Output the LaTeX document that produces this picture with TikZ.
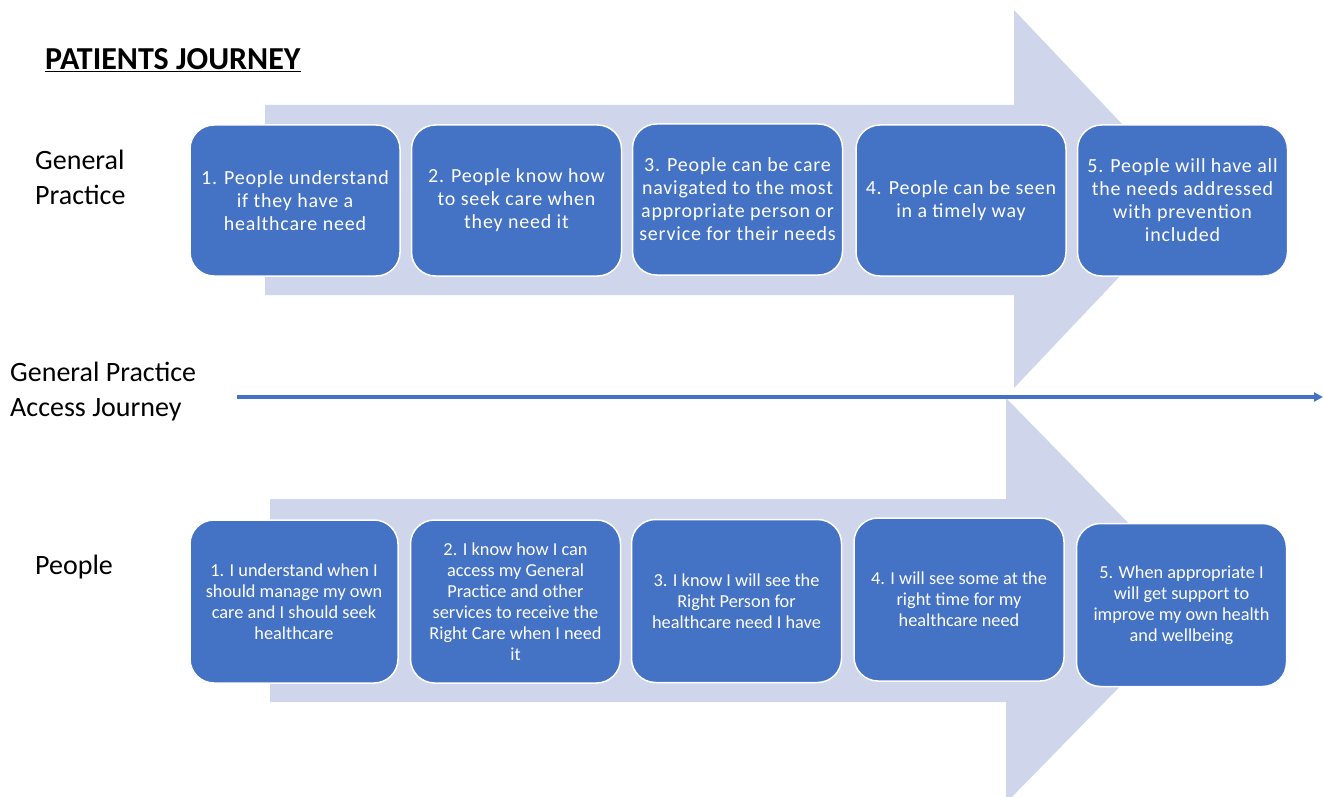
\documentclass[tikz,border=0pt]{standalone}
\usepackage{fontspec}
\setmainfont{Carlito}
\newfontfamily\upfont[LetterSpace=4]{Carlito}
\usetikzlibrary{arrows.meta}
\definecolor{boxblue}{HTML}{4472C4}
\definecolor{arrowfill}{HTML}{CFD5EA}
\begin{document}
\begin{tikzpicture}[x=1pt,y=-1pt,
  stepbox/.style={draw=white, line width=1.5pt, fill=boxblue, rounded corners=24pt,
    text=white, align=center, inner sep=0pt, minimum width=210pt, minimum height=151pt},
  upbox/.style={stepbox, font=\upfont\fontsize{20}{23}\selectfont},
  lowbox/.style={stepbox, font=\fontsize{18.3}{21}\selectfont, minimum height=163pt},
  sidelabel/.style={anchor=west, align=left, inner sep=0pt, font=\fontsize{28}{35}\selectfont},
  bigarrow/.style={fill=arrowfill, draw=none},
  axisline/.style={draw=boxblue, line width=3.2pt, -{Triangle[length=9pt,width=9pt]}}
]
\clip (0,0) rectangle (1323,797);
\fill[white] (0,0) rectangle (1323,797);

% big background arrows
\fill[bigarrow] (265,105) -- (1014,105) -- (1014,10) -- (1193,199) -- (1014,388) -- (1014,295) -- (265,295) -- cycle;
\fill[bigarrow] (270,499) -- (1006,499) -- (1006,398) -- (1204,600.5) -- (1006,803) -- (1006,702) -- (270,702) -- cycle;

% axis line
\coordinate (ls) at (237,397);
\coordinate (le) at (1323,397);
\draw[axisline] (ls) -- (le);

% title and side labels
\node[anchor=west, inner sep=0pt, font=\fontsize{32}{36}\selectfont\bfseries] (title) at (45,60) {\underline{PATIENTS JOURNEY}};
\node[sidelabel] (gp) at (35,177) {General\\Practice};
\node[sidelabel] (gpa) at (10,392) {General Practice\\Access Journey};
\node[sidelabel] (people) at (35,567) {People};

% upper boxes
\node[upbox] (u1) at (295,200.5) {1. People understand\\if they have a\\healthcare need};
\node[upbox] (u2) at (516.5,200.5) {2. People know how\\to seek care when\\they need it};
\node[upbox] (u3) at (737.5,199.5) {3. People can be care\\navigated to the most\\appropriate person or\\service for their needs};
\node[upbox] (u4) at (961,200.5) {4. People can be seen\\in a timely way};
\node[upbox] (u5) at (1182.5,200.5) {5. People will have all\\the needs addressed\\with prevention\\included};

% lower boxes
\node[lowbox, minimum width=208pt] (l1) at (294,601.5) {1. I understand when I\\should manage my own\\care and I should seek\\healthcare};
\node[lowbox] (l2) at (515.5,601.5) {2. I know how I can\\access my General\\Practice and other\\services to receive the\\Right Care when I need\\it};
\node[lowbox] (l3) at (736.5,601) {3. I know I will see the\\Right Person for\\healthcare need I have};
\node[lowbox] (l4) at (959,599.5) {4. I will see some at the\\right time for my\\healthcare need};
\node[lowbox] (l5) at (1181.5,605) {5. When appropriate I\\will get support to\\improve my own health\\and wellbeing};
\end{tikzpicture}
\end{document}
